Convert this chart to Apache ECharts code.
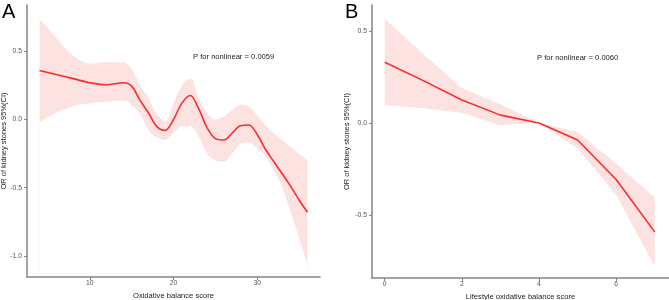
<!DOCTYPE html>
<html><head><meta charset="utf-8">
<script src="https://cdn.jsdelivr.net/npm/echarts@6/dist/echarts.min.js"></script>
<style>html,body{margin:0;padding:0;background:#fff}#c{width:669px;height:300px}</style>
</head><body><div id="c"></div>
<script>
// Panel A: Oxidative balance score
const xA     = [4, 6, 8, 10, 12, 14, 15, 16, 17, 18, 19, 20, 21, 22, 23, 24, 25, 26, 27, 28, 29, 30, 31, 32, 33, 34, 35, 36];
const fitA   = [0.36, 0.33, 0.30, 0.27, 0.255, 0.27, 0.245, 0.14, 0.05, -0.05, -0.08, 0.0, 0.12, 0.176, 0.08, -0.06, -0.14, -0.15, -0.10, -0.045, -0.04, -0.11, -0.22, -0.31, -0.40, -0.49, -0.59, -0.68];
const upperA = [0.74, 0.60, 0.47, 0.41, 0.42, 0.42, 0.37, 0.25, 0.16, 0.04, -0.01, 0.12, 0.25, 0.30, 0.16, 0.05, 0.0, 0.02, 0.07, 0.11, 0.10, 0.03, -0.04, -0.10, -0.15, -0.20, -0.25, -0.30];
const lowerA = [-0.02, 0.05, 0.10, 0.12, 0.13, 0.14, 0.11, 0.04, -0.08, -0.13, -0.15, -0.10, -0.05, -0.05, -0.12, -0.25, -0.30, -0.31, -0.25, -0.18, -0.17, -0.21, -0.27, -0.38, -0.50, -0.68, -0.87, -1.06];
const ticksXA = [10, 20, 30];
const ticksYA = [-1.0, -0.5, 0.0, 0.5];

// Panel B: Lifestyle oxidative balance score
const xB     = [0, 1, 2, 3, 4, 5, 6, 7];
const fitB   = [0.33, 0.23, 0.125, 0.043, 0.0, -0.092, -0.306, -0.59];
const upperB = [0.565, 0.375, 0.19, 0.10, 0.0, -0.047, -0.22, -0.404];
const lowerB = [0.098, 0.08, 0.054, -0.01, 0.0, -0.136, -0.39, -0.776];
const ticksXB = [0, 2, 4, 6];
const ticksYB = [-0.5, 0.0, 0.5];

const pTextA = 'P for nonlinear = 0.0059';
const pTextB = 'P for nonlinear = 0.0060';
const xTitleA = 'Oxidative balance score';
const xTitleB = 'Lifestyle oxidative balance score';
const yTitle = 'OR of kidney stones 95%(CI)';

const RED = '#ff2a2a';
const PINK = '#fde2e2';
const AXC = '#858585';
const FONT = 'Liberation Sans, Arial, sans-serif';

function pairs(xs, ys) { return xs.map((x, i) => [x, ys[i]]); }

function xAxisCfg(idx, min, max, ticks, name) {
  return {
    type: 'value', gridIndex: idx, min: min, max: max, z: 10,
    splitLine: { show: false },
    axisLine: { onZero: false, lineStyle: { color: AXC, width: 1.5 } },
    axisTick: { customValues: ticks, length: 3, lineStyle: { color: AXC, width: 1 } },
    axisLabel: { customValues: ticks, fontSize: 6.8, color: '#555', margin: 3, fontFamily: FONT },
    name: name, nameLocation: 'middle', nameGap: 15, nameMoveOverlap: false,
    nameTextStyle: { fontSize: 7.6, color: '#222', fontFamily: FONT }
  };
}
function yAxisCfg(idx, min, max, ticks, gap) {
  return {
    type: 'value', gridIndex: idx, min: min, max: max, z: 10,
    splitLine: { show: false },
    axisLine: { show: true, onZero: false, lineStyle: { color: AXC, width: 1.5 } },
    axisTick: { show: true, customValues: ticks, length: 3, lineStyle: { color: AXC, width: 1 } },
    axisLabel: { customValues: ticks, fontSize: 6.8, color: '#555', margin: 5, fontFamily: FONT,
                 formatter: v => v.toFixed(1) },
    name: yTitle, nameLocation: 'middle', nameRotate: 90, nameGap: gap, nameMoveOverlap: false,
    nameTextStyle: { fontSize: 7.5, color: '#222', fontFamily: FONT }
  };
}

// Smooth band (panel A): upper edge filled pink to the axis bottom, lower edge filled white to the axis bottom
function smoothBandSeries(idx, xs, lo, up, smooth) {
  return [
    { type: 'line', xAxisIndex: idx, yAxisIndex: idx, data: pairs(xs, up), smooth: smooth,
      symbol: 'none', lineStyle: { width: 0, opacity: 0 },
      areaStyle: { color: PINK, opacity: 1, origin: 'start' }, silent: true, z: 1 },
    { type: 'line', xAxisIndex: idx, yAxisIndex: idx, data: pairs(xs, lo), smooth: smooth,
      symbol: 'none', lineStyle: { width: 0, opacity: 0 },
      areaStyle: { color: '#ffffff', opacity: 1, origin: 'start' }, silent: true, z: 1 }
  ];
}

// Straight band (panel B): polygon through the library's coordinate system
function polyBandSeries(idx, xs, lo, up) {
  return {
    type: 'custom', xAxisIndex: idx, yAxisIndex: idx, silent: true, z: 1,
    data: xs.map((x, i) => [x, lo[i], up[i]]),
    encode: { x: 0, y: [1, 2] },
    renderItem: function (params, api) {
      if (params.dataIndex !== 0) return null;
      const pts = [];
      for (let i = 0; i < xs.length; i++) pts.push(api.coord([xs[i], up[i]]));
      for (let i = xs.length - 1; i >= 0; i--) pts.push(api.coord([xs[i], lo[i]]));
      return { type: 'polygon', shape: { points: pts }, style: { fill: PINK, stroke: null } };
    }
  };
}

const chart = echarts.init(document.getElementById('c'), null, { renderer: 'canvas' });
chart.setOption({
  animation: false,
  backgroundColor: '#fff',
  grid: [
    { left: 27, top: 5, width: 293, height: 272, outerBoundsMode: 'none', containLabel: false },
    { left: 372, top: 5, width: 297, height: 273, outerBoundsMode: 'none', containLabel: false }
  ],
  xAxis: [
    xAxisCfg(0, 2.5, 37.5, ticksXA, xTitleA),
    xAxisCfg(1, -0.33, 7.37, ticksXB, xTitleB)
  ],
  yAxis: [
    yAxisCfg(0, -1.155, 0.84, ticksYA, 19),
    yAxisCfg(1, -0.84, 0.64, ticksYB, 21)
  ],
  series: [
    ...smoothBandSeries(0, xA, lowerA, upperA, 0.35),
    { type: 'line', xAxisIndex: 0, yAxisIndex: 0, data: pairs(xA, fitA), smooth: 0.35, symbol: 'none',
      lineStyle: { color: RED, width: 1.6 }, z: 3 },
    polyBandSeries(1, xB, lowerB, upperB),
    { type: 'line', xAxisIndex: 1, yAxisIndex: 1, data: pairs(xB, fitB), smooth: false, symbol: 'none',
      lineStyle: { color: RED, width: 1.6 }, z: 3 }
  ],
  graphic: [
    { type: 'text', left: 2, top: 2, style: { text: 'A', fontSize: 20, fill: '#000', fontFamily: FONT } },
    { type: 'text', left: 345, top: 2, style: { text: 'B', fontSize: 20, fill: '#000', fontFamily: FONT } },
    { type: 'text', left: 193, top: 53, style: { text: pTextA, fontSize: 7.6, fill: '#222', fontFamily: FONT } },
    { type: 'text', left: 537, top: 54, style: { text: pTextB, fontSize: 7.6, fill: '#222', fontFamily: FONT } }
  ]
});
</script></body></html>
